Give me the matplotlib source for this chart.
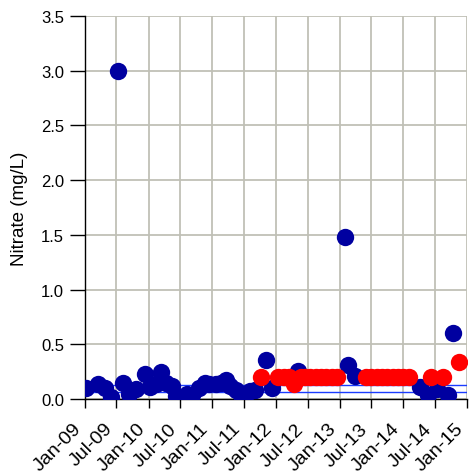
import datetime as dt
import matplotlib
matplotlib.use("Agg")
import matplotlib.pyplot as plt
import matplotlib.dates as mdates
import matplotlib.transforms as mtransforms
from matplotlib.ticker import FormatStrFormatter

plt.rcParams['font.family'] = ['Liberation Sans', 'DejaVu Sans']

# detected results (blue)
det_dates = ["2009-01-10", "2009-03-15", "2009-04-25", "2009-06-01", "2009-07-08",
             "2009-08-08", "2009-09-08", "2009-10-20", "2009-12-10", "2010-01-08",
             "2010-02-10", "2010-03-15", "2010-04-10", "2010-05-18", "2010-06-10",
             "2010-08-08", "2010-09-05", "2010-10-15", "2010-11-20", "2010-12-15",
             "2011-01-25", "2011-02-20", "2011-03-22", "2011-04-15", "2011-05-18",
             "2011-06-15", "2011-07-08", "2011-08-05", "2011-09-01", "2011-11-08",
             "2011-12-08", "2012-05-08", "2013-02-01", "2013-02-20", "2013-03-28",
             "2014-04-05", "2014-05-22", "2014-07-10", "2014-09-15", "2014-10-12"]
det_vals = [0.10, 0.14, 0.10, 0.02, 3.00,
            0.15, 0.05, 0.09, 0.23, 0.11,
            0.14, 0.25, 0.15, 0.12, 0.03,
            0.05, 0.04, 0.10, 0.15, 0.14,
            0.14, 0.15, 0.17, 0.12, 0.08,
            0.04, 0.03, 0.07, 0.08, 0.36,
            0.10, 0.26, 1.48, 0.31, 0.21,
            0.11, 0.04, 0.09, 0.04, 0.60]

# non-detect / reporting-limit results (red)
nd_dates = ["2011-10-10", "2012-01-15", "2012-02-15", "2012-03-15", "2012-04-15",
            "2012-05-25", "2012-06-15", "2012-07-15", "2012-08-15", "2012-09-15",
            "2012-10-15", "2012-11-15", "2012-12-15", "2013-06-01", "2013-07-01",
            "2013-08-01", "2013-09-01", "2013-10-01", "2013-11-01", "2013-12-01",
            "2014-01-01", "2014-02-01", "2014-06-10", "2014-08-15", "2014-11-15"]
nd_vals = [0.20, 0.20, 0.20, 0.20, 0.14,
           0.20, 0.20, 0.20, 0.20, 0.20,
           0.20, 0.20, 0.20, 0.20, 0.20,
           0.20, 0.20, 0.20, 0.20, 0.20,
           0.20, 0.20, 0.20, 0.20, 0.34]

ref_levels = [0.125, 0.061]

det_x = [dt.datetime.strptime(d, "%Y-%m-%d") for d in det_dates]
nd_x = [dt.datetime.strptime(d, "%Y-%m-%d") for d in nd_dates]

fig = plt.figure(figsize=(4.69, 4.77), dpi=100)
ax = fig.add_axes([0.181, 0.1614, 0.815, 0.803])

for lvl in ref_levels:
    ax.axhline(lvl, color="#1a3cff", lw=1.0, zorder=2)

ax.plot(det_x, det_vals, "o", color="#0000a0", ms=12.5, mec="none", zorder=3)
ax.plot(nd_x, nd_vals, "o", color="#ff0000", ms=12.5, mec="none", zorder=4)

ax.set_xlim(dt.datetime(2009, 1, 1), dt.datetime(2015, 1, 1))
ax.set_ylim(0, 3.5)
ax.set_yticks([0.0, 0.5, 1.0, 1.5, 2.0, 2.5, 3.0, 3.5])
ax.yaxis.set_major_formatter(FormatStrFormatter("%.1f"))
ax.xaxis.set_major_locator(mdates.MonthLocator(bymonth=[1, 7]))
ax.xaxis.set_major_formatter(mdates.DateFormatter("%b-%y"))

ax.grid(True, color="#c0c0b6", lw=1.3, zorder=0)
ax.set_axisbelow(True)
for side in ["top", "right"]:
    ax.spines[side].set_visible(False)
for side in ["left", "bottom"]:
    ax.spines[side].set_color("black")
    ax.spines[side].set_linewidth(1.0)

ax.tick_params(axis="y", direction="out", length=11, width=1, pad=4,
               labelsize=12, colors="black")
ax.tick_params(axis="x", direction="out", length=6.5, width=1, pad=15,
               labelsize=14, colors="black")

# rotated date labels end just left of their tick
shift = mtransforms.ScaledTranslation(-3 / 100, 0, fig.dpi_scale_trans)
for lab in ax.get_xticklabels():
    lab.set_rotation(45)
    lab.set_ha("right")
    lab.set_va("baseline")
    lab.set_rotation_mode("anchor")
    lab.set_transform(lab.get_transform() + shift)

ax.set_ylabel("Nitrate (mg/L)", fontsize=13.5, labelpad=9)

fig.savefig("out.png", dpi=100)
